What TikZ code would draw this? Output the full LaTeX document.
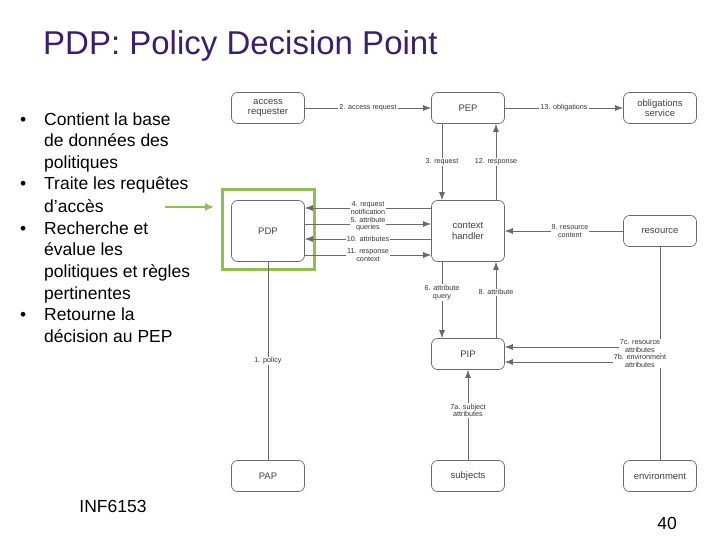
\documentclass[tikz,border=0pt]{standalone}
\usepackage{fontspec}
\setmainfont{Liberation Sans}
\usetikzlibrary{arrows.meta}
\definecolor{ttl}{HTML}{3B1E6E}
\definecolor{grn}{HTML}{8CC04F}
\definecolor{ln}{HTML}{6A6A6A}
\begin{document}
\begin{tikzpicture}[x=1pt,y=-1pt,
 box/.style={draw=ln,line width=0.7pt,rounded corners=6pt,minimum width=73pt,minimum height=31pt,font=\fontsize{9.5}{10.5}\selectfont,text=black!75,align=center,inner sep=1pt},
 lab/.style={fill=white,font=\fontsize{7.2}{7.6}\selectfont,text=black!80,align=center,inner sep=1pt},
 ar/.style={draw=ln,line width=0.7pt,-{Latex[length=8pt,width=6pt]}},
 bl/.style={anchor=base west,font=\fontsize{17.5}{19}\selectfont,inner sep=0}]
\useasboundingbox (0,0) rectangle (720,540);
\node[anchor=base west,font=\fontsize{33}{35}\selectfont,text=ttl,inner sep=0] (title) at (43,55) {PDP: Policy Decision Point};
% bullets
\node[bl] (b1) at (20,126) {•};
\node[bl] (l1) at (44,126) {Contient la base};
\node[bl] (l2) at (44,147) {de données des};
\node[bl] (l3) at (44,169) {politiques};
\node[bl] (b2) at (20,190) {•};
\node[bl] (l4) at (44,190) {Traite les requêtes};
\node[bl] (l5) at (44,212) {d’accès};
\node[bl] (b3) at (20,234) {•};
\node[bl] (l6) at (44,234) {Recherche et};
\node[bl] (l7) at (44,255) {évalue les};
\node[bl] (l8) at (44,277) {politiques et règles};
\node[bl] (l9) at (44,299) {pertinentes};
\node[bl] (b4) at (20,320) {•};
\node[bl] (l10) at (44,320) {Retourne la};
\node[bl] (l11) at (44,342) {décision au PEP};
\node[anchor=base,font=\fontsize{17.5}{19}\selectfont,inner sep=0] (inf) at (113,512) {INF6153};
\node[anchor=base,font=\fontsize{17.5}{19}\selectfont,inner sep=0] (pg) at (667,529) {40};
% boxes
\node[box] (ar) at (268,108) {access\\requester};
\node[box] (pep) at (468,108) {PEP};
\node[box] (obl) at (660,108) {obligations\\service};
\node[box,minimum height=61pt] (pdp) at (268,231) {PDP};
\node[box,minimum height=61pt] (ch) at (468,231) {context\\handler};
\node[box] (res) at (660,231) {resource};
\node[box] (pip) at (468,354) {PIP};
\node[box] (pap) at (268,476) {PAP};
\node[box] (sub) at (468,476) {subjects};
\node[box] (env) at (660,476) {environment};
% green highlight
\node[draw=grn,line width=3pt,minimum width=92pt,minimum height=80pt,inner sep=0] (hl) at (268.5,229.5) {};
\coordinate (gs) at (165,207);
\coordinate (ge) at (214,207);
\draw[grn,line width=2pt,-{Latex[length=9pt,width=8pt]}] (gs) -- (ge);
% connectors
\draw[ar] (ar) -- node[lab]{2. access request} (pep);
\draw[ar] (pep) -- node[lab]{13. obligations} (obl);
\draw[ar] (pep.south -| 442,0) -- node[lab]{3. request} (ch.north -| 442,0);
\draw[ar] (ch.north -| 496,0) -- node[lab]{12. response} (pep.south -| 496,0);
\draw[ar] (ch.west |- 0,208) -- node[lab]{4. request\\notification} (pdp.east |- 0,208);
\draw[ar] (pdp.east |- 0,224) -- node[lab]{5. attribute\\queries} (ch.west |- 0,224);
\draw[ar] (ch.west |- 0,239) -- node[lab]{10. attributes} (pdp.east |- 0,239);
\draw[ar] (pdp.east |- 0,255) -- node[lab]{11. response\\context} (ch.west |- 0,255);
\draw[ar] (res) -- node[lab,pos=0.45]{9. resource\\content} (ch);
\draw[ar] (ch.south -| 442,0) -- node[lab,pos=0.4]{6. attribute\\query} (pip.north -| 442,0);
\draw[ar] (pip.north -| 496,0) -- node[lab,pos=0.6]{8. attribute} (ch.south -| 496,0);
\draw[draw=ln,line width=0.7pt] (pap) -- node[lab,pos=0.5]{1. policy} (pdp);
\draw[ar] (sub) -- node[lab,pos=0.55]{7a. subject\\attributes} (pip);
\coordinate (v1) at (660,347);
\coordinate (v2) at (660,362);
\draw[draw=ln,line width=0.7pt] (res) -- (env);
\draw[ar] (v1) -- (pip.east |- v1);
\draw[ar] (v2) -- (pip.east |- v2);
\node[lab] (l7c) at (640,346) {7c. resource\\attributes};
\node[lab] (l7b) at (640,361) {7b. environment\\attributes};
\end{tikzpicture}
\end{document}
